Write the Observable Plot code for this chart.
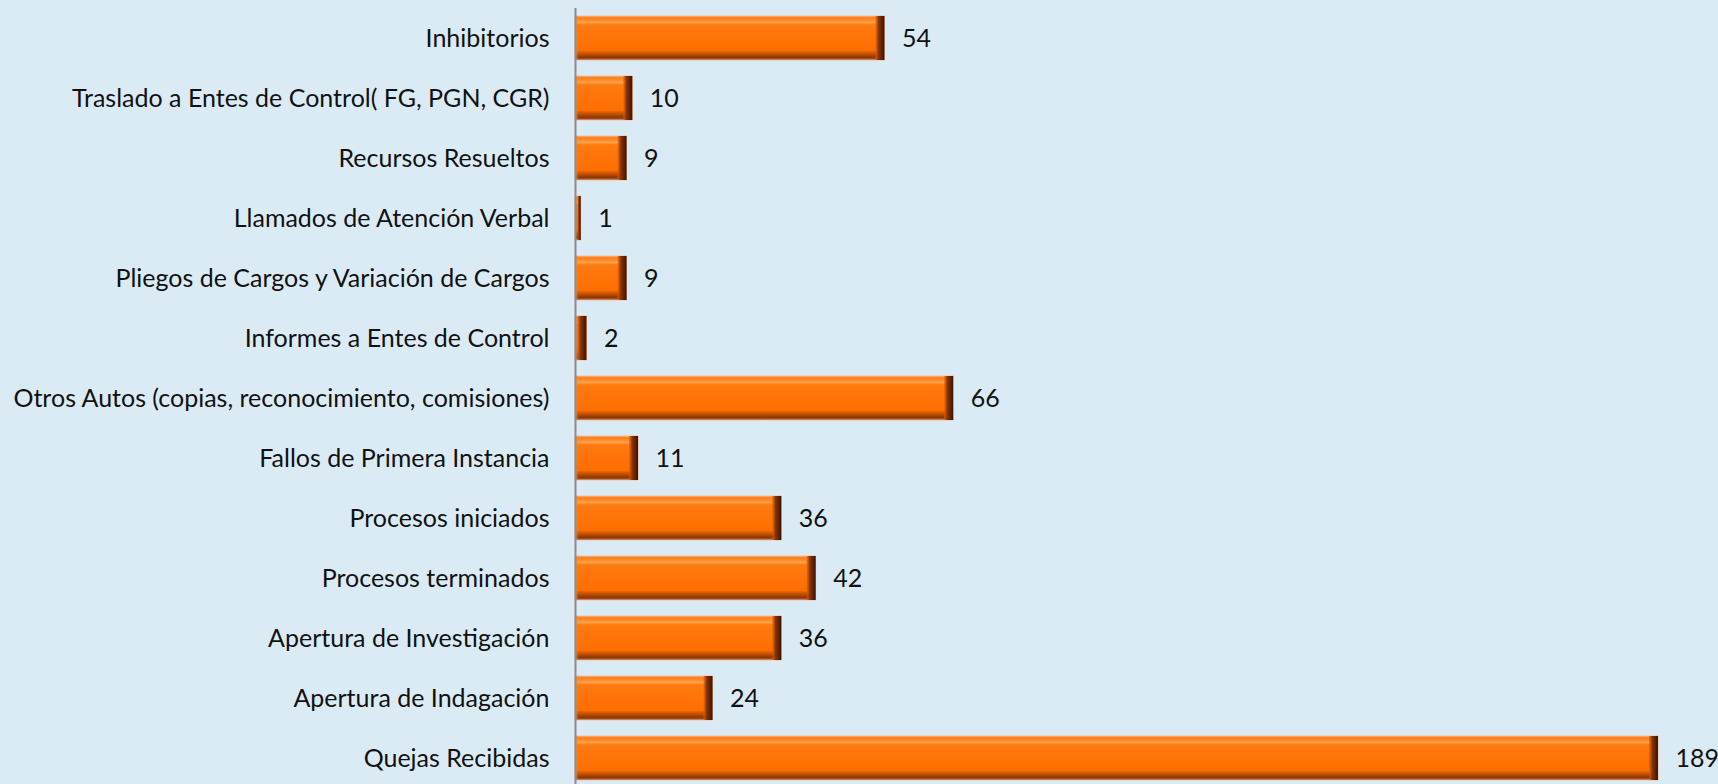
<!DOCTYPE html>
<html>
<head>
<meta charset="utf-8">
<script src="https://cdn.jsdelivr.net/npm/d3@7"></script>
<script src="https://cdn.jsdelivr.net/npm/@observablehq/plot@0.6"></script>
<style>
  html, body { margin: 0; padding: 0; background: #DBEBF6; }
  #chart { width: 1718px; height: 784px; overflow: hidden; }
</style>
</head>
<body>
<div id="chart"></div>
<script>
const categories = [
  "Inhibitorios",
  "Traslado a Entes de Control( FG, PGN, CGR)",
  "Recursos Resueltos",
  "Llamados de Atención Verbal",
  "Pliegos de Cargos y Variación de Cargos",
  "Informes a Entes de Control",
  "Otros Autos (copias, reconocimiento, comisiones)",
  "Fallos de Primera Instancia",
  "Procesos iniciados",
  "Procesos terminados",
  "Apertura de Investigación",
  "Apertura de Indagación",
  "Quejas Recibidas"
];
const values = [54, 10, 9, 1, 9, 2, 66, 11, 36, 42, 36, 24, 189];

const data = categories.map((c, i) => ({category: c, value: values[i]}));
const wide = data.filter(d => d.value > 1);
const narrow = data.filter(d => d.value <= 1);

const chart = Plot.plot({
  width: 1718,
  height: 784,
  marginLeft: 0, marginRight: 0, marginTop: 0, marginBottom: 0,
  style: {background: "#DBEBF6", fontFamily: "Lato, 'Open Sans', sans-serif", color: "#111"},
  x: {domain: [0, 189], range: [575, 1658], axis: null},
  y: {domain: categories, range: [7, 789], paddingInner: 0.27, paddingOuter: 0.135, label: null},
  marks: [
    Plot.barX(data, {y: "category", x: "value", fill: "url(#barGrad)", stroke: "#f2b58a", strokeWidth: 0.8}),
    Plot.barX(wide, {y: "category", x1: 0, x2: 0, insetRight: -4, fill: "url(#leftGrad)"}),
    Plot.barX(wide, {y: "category", x1: "value", x2: "value", insetLeft: -9, fill: "url(#edgeGrad)"}),
    Plot.barX(narrow, {y: "category", x1: "value", x2: "value", insetLeft: -3, fill: "url(#edgeGrad)"}),
    Plot.ruleX([0], {insetTop: 8, stroke: "#8c8c8c", strokeWidth: 2}),
    Plot.axisY({tickSize: 0, tickPadding: 26, fontSize: 25, textAnchor: "end", anchor: "left", dx: 575, label: null, fill: "#111"}),
    Plot.text(data, {y: "category", x: "value", text: d => String(d.value), dx: 17, textAnchor: "start", fontSize: 25, fill: "#111"})
  ]
});

const defs = `<defs>
  <linearGradient id="barGrad" x1="0" y1="0" x2="0" y2="1">
    <stop offset="0" stop-color="#ffa458"/>
    <stop offset="0.04" stop-color="#ff7e18"/>
    <stop offset="0.10" stop-color="#ff8f30"/>
    <stop offset="0.15" stop-color="#ffa048"/>
    <stop offset="0.2" stop-color="#ff7a10"/>
    <stop offset="0.78" stop-color="#ff6e00"/>
    <stop offset="0.83" stop-color="#d85a00"/>
    <stop offset="0.94" stop-color="#8e3805"/>
    <stop offset="1" stop-color="#b86038"/>
  </linearGradient>
  <linearGradient id="leftGrad" x1="0" y1="0" x2="1" y2="0">
    <stop offset="0" stop-color="#ff9a40" stop-opacity="0.8"/>
    <stop offset="1" stop-color="#ff7a10" stop-opacity="0"/>
  </linearGradient>
  <linearGradient id="edgeGrad" x1="0" y1="0" x2="1" y2="0">
    <stop offset="0" stop-color="#e06000" stop-opacity="0.6"/>
    <stop offset="0.35" stop-color="#8a3400"/>
    <stop offset="1" stop-color="#3a1400"/>
  </linearGradient>
</defs>`;
chart.insertAdjacentHTML("afterbegin", defs);
document.getElementById("chart").appendChild(chart);
</script>
</body>
</html>
